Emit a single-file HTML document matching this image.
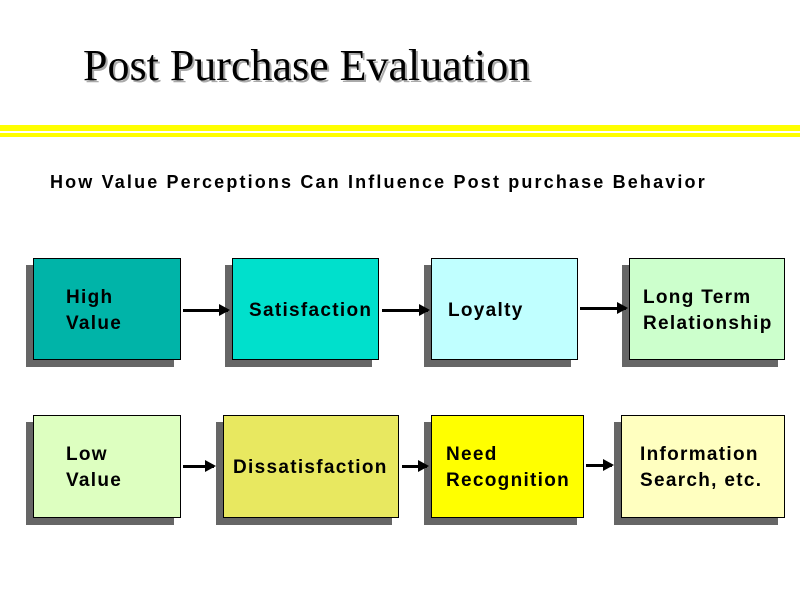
<!DOCTYPE html>
<html><head><style>
body{margin:0;width:800px;height:600px;background:#fff;position:relative;overflow:hidden;font-family:"Liberation Sans",Arial,sans-serif}
.t{position:absolute;left:83px;top:40px;font-family:"Liberation Serif",serif;font-size:44px;color:#000;text-shadow:2px 2px 0 #aaa;white-space:nowrap}
.y{position:absolute;left:0;width:800px;background:#ff0}
.sub{position:absolute;left:50px;top:172px;font-size:18px;font-weight:bold;letter-spacing:2.15px;white-space:nowrap}
.b{position:absolute;border:1px solid #000;box-shadow:-7px 7px 0 #666;font-weight:bold;font-size:19px;letter-spacing:1.3px;box-sizing:border-box;line-height:26px;display:flex;align-items:center;white-space:nowrap;padding-top:3px}
.a{position:absolute;height:3px;background:#000}
.a:after{content:"";position:absolute;right:-2px;top:-5px;border-left:11px solid #000;border-top:6.5px solid transparent;border-bottom:6.5px solid transparent}
</style></head><body>
<div class="t">Post Purchase Evaluation</div>
<div class="y" style="top:125px;height:6px"></div>
<div class="y" style="top:133px;height:4px"></div>
<div class="sub">How Value Perceptions Can Influence Post purchase Behavior</div>

<div class="b" style="left:33px;top:258px;width:148px;height:102px;background:#00B4A8;padding-left:32px">High<br>Value</div>
<div class="b" style="left:232px;top:258px;width:147px;height:102px;background:#00E0CC;padding-left:16px">Satisfaction</div>
<div class="b" style="left:431px;top:258px;width:147px;height:102px;background:#C0FFFF;padding-left:16px">Loyalty</div>
<div class="b" style="left:629px;top:258px;width:156px;height:102px;background:#CCFFCC;padding-left:13px">Long Term<br>Relationship</div>

<div class="b" style="left:33px;top:415px;width:148px;height:103px;background:#DDFFC0;padding-left:32px">Low<br>Value</div>
<div class="b" style="left:223px;top:415px;width:176px;height:103px;background:#E8E860;padding-left:9px">Dissatisfaction</div>
<div class="b" style="left:431px;top:415px;width:153px;height:103px;background:#FFFF00;padding-left:14px">Need<br>Recognition</div>
<div class="b" style="left:621px;top:415px;width:164px;height:103px;background:#FFFFC0;padding-left:18px">Information<br>Search, etc.</div>

<div class="a" style="left:183px;top:309px;width:45px"></div>
<div class="a" style="left:382px;top:309px;width:46px"></div>
<div class="a" style="left:580px;top:307px;width:46px"></div>
<div class="a" style="left:183px;top:465px;width:31px"></div>
<div class="a" style="left:402px;top:465px;width:25px"></div>
<div class="a" style="left:586px;top:464px;width:26px"></div>
</body></html>
